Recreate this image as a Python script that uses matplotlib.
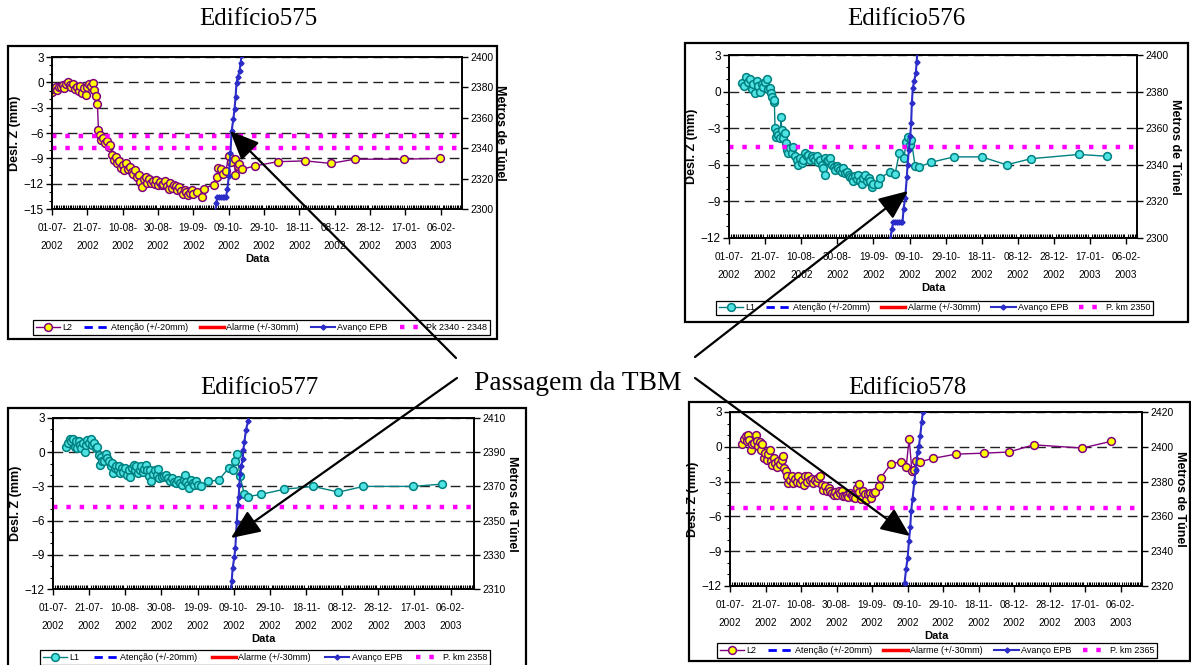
import numpy as np
import matplotlib
matplotlib.use('Agg')
import matplotlib.pyplot as plt
import matplotlib.dates as mdates
from matplotlib.ticker import MultipleLocator
from matplotlib.patches import Rectangle, FancyArrowPatch

# ------------------------------------------------------------------ data
START = '2002-07-01'
TICK_DAYS = [0, 20, 40, 60, 80, 100, 120, 140, 160, 180, 200, 220]
TICK_LABELS = ['01-07-\n2002', '21-07-\n2002', '10-08-\n2002', '30-08-\n2002',
               '19-09-\n2002', '09-10-\n2002', '29-10-\n2002', '18-11-\n2002',
               '08-12-\n2002', '28-12-\n2002', '17-01-\n2003', '06-02-\n2003']

# Edifício 575 - L2 (days since 01-07-2002, mm)
L2_575_DAYS = [0, 1, 2, 3, 4, 5, 6, 7, 8, 9, 10, 11, 12, 13, 14, 15, 16, 17, 18, 19, 20,
               21, 22, 23, 24, 25, 25.7, 26.3, 27, 28, 29, 30, 31, 32, 33, 34, 35, 36, 37,
               38, 39, 40, 41, 42, 43, 44, 45, 46, 47, 48, 49, 50, 51, 52, 53, 54, 55, 56,
               57, 58, 59, 60, 61, 62, 63, 64, 65, 66, 67, 68, 69, 70, 71, 72, 73, 74, 75,
               76, 77, 78, 79, 80, 82, 85, 86, 91.4, 93.3, 94.2, 95.5, 97, 98.5, 99.9,
               101.5, 103.3, 103.7, 105, 106, 107.6, 114.7, 127.7, 143.4, 157.6, 171.4,
               198.9, 219.7]
L2_575_VALS = [-1.1, -0.8, -0.6, -0.9, -0.5, -0.6, -0.3, -0.7, -0.2, 0.0, -0.3, -0.5, -0.2,
               -0.8, -0.6, -1.0, -0.4, -1.3, -0.7, -1.5, -0.5, -0.2, -0.4, -0.1, -0.9, -1.6,
               -2.6, -5.7, -6.2, -6.8, -6.6, -7.2, -6.9, -7.7, -7.4, -8.6, -9.2, -8.9, -9.6,
               -9.3, -10.2, -9.8, -10.4, -9.6, -10.3, -10.0, -10.6, -10.9, -10.4, -11.2,
               -11.0, -11.8, -12.4, -11.5, -11.2, -11.9, -11.5, -11.9, -11.7, -12.0, -11.6,
               -12.1, -11.8, -12.2, -12.0, -11.7, -12.3, -12.6, -11.9, -12.5, -12.1, -12.3,
               -12.8, -12.4, -12.9, -13.2, -12.7, -13.0, -13.4, -13.1, -12.8, -13.2, -13.0,
               -13.6, -12.6, -12.1, -11.2, -10.2, -10.3, -10.8, -10.5, -8.7, -9.4, -9.1,
               -11.0, -9.9, -9.7, -10.3, -9.9, -9.4, -9.3, -9.6, -9.1, -9.1, -9.0]
EPB_575_DAYS = [92.3, 93.0, 93.5, 94.5, 95.5, 96.5, 97.5, 98.5, 99.2, 100.1, 101.0, 101.6,
                102.6, 103.3, 103.9, 104.4, 105.2, 106.1, 106.7, 107.3]
EPB_575_VALS = [2298, 2304, 2308, 2308, 2308, 2308, 2308, 2308, 2313, 2322, 2337, 2351,
                2359, 2366, 2374, 2383, 2387, 2390.5, 2396, 2401]
PK_575 = [2348, 2340]

# Edifício 576 - L1
L1_576_DAYS = [7.4, 8.5, 9.4, 10.4, 11.6, 12.6, 13.5, 14.4, 15.3, 16.3, 17.2, 18.1, 19.0,
               20.0, 20.9, 21.8, 22.7, 23.3, 24.0, 24.8, 25.1, 25.5, 25.9, 26.4, 27.4, 28.3,
               28.8, 29.2, 30.1, 31.1, 31.6, 32.3, 32.9, 33.8, 34.8, 35.7, 36.6, 37.5, 38.4,
               39.4, 40.3, 41.2, 42.1, 43.1, 44.0, 44.9, 45.8, 46.8, 47.7, 48.6, 49.5, 50.5,
               51.4, 52.3, 52.9, 53.2, 54.2, 55.1, 56.0, 56.9, 57.9, 58.8, 59.7, 60.6, 61.5,
               62.5, 63.4, 64.3, 65.2, 66.2, 67.1, 68.0, 68.9, 69.9, 70.8, 71.7, 72.6, 73.6,
               74.5, 75.4, 76.3, 77.3, 78.2, 79.1, 80.0, 82.8, 83.7, 89.3, 92.0, 94.3, 97.0,
               98.0, 99.0, 100.0, 101.0, 103.1, 105.0, 111.8, 124.6, 139.9, 153.8, 167.3,
               193.9, 209.4]
L1_576_VALS = [0.7, 0.5, 1.2, 0.8, 1.0, 0.25, 0.65, -0.1, 0.9, 0.45, 0.0, 0.65, 0.4, 0.8,
               1.0, 0.25, 0.3, -0.15, -0.45, -0.85, -0.7, -3.0, -3.7, -3.3, -3.55, -3.8,
               -2.05, -3.15, -3.8, -3.4, -4.2, -4.8, -5.05, -4.65, -5.05, -4.5, -5.3, -5.6,
               -6.0, -5.45, -5.85, -5.6, -5.05, -5.3, -5.2, -5.6, -5.3, -5.45, -5.6, -5.3,
               -5.75, -5.6, -6.0, -6.3, -6.8, -5.45, -5.7, -5.6, -5.45, -6.0, -6.2, -6.4,
               -6.1, -6.3, -6.45, -6.55, -6.3, -6.7, -6.6, -6.8, -7.0, -7.1, -7.35, -6.95,
               -7.2, -6.8, -7.35, -7.6, -7.1, -6.8, -7.35, -7.1, -7.35, -7.8, -7.6, -7.6,
               -7.1, -6.55, -6.75, -5.05, -5.45, -4.1, -3.7, -4.4, -4.0, -6.1, -6.2, -5.8,
               -5.35, -5.35, -6.0, -5.5, -5.15, -5.3]
EPB_576_DAYS = [89.3, 90.2, 91.0, 92.0, 93.0, 94.0, 95.0, 96.1, 96.7, 97.6, 98.5, 98.9,
                99.6, 100.4, 100.9, 101.3, 101.8, 102.6, 103.5, 103.9, 104.4]
EPB_576_VALS = [2299, 2305, 2308.5, 2308.5, 2308.5, 2308.5, 2308.5, 2308.5, 2316, 2322,
                2333.5, 2340, 2348, 2356, 2363, 2374, 2382, 2386, 2390, 2396, 2402]
PK_576 = [2350]

# Edifício 577 - L1
L1_577_DAYS = [7.4, 8.3, 9.2, 10.1, 11.0, 12.0, 12.5, 13.3, 14.4, 15.1, 15.7, 16.6, 17.5,
               18.4, 19.0, 19.9, 21.2, 21.7, 22.5, 23.6, 24.3, 25.2, 25.8, 26.7, 27.3, 28.5,
               29.5, 30.0, 30.9, 31.9, 32.4, 33.1, 34.1, 35.0, 35.9, 36.5, 37.2, 38.3, 39.0,
               40.1, 40.9, 41.8, 42.7, 43.8, 44.6, 45.3, 46.0, 47.0, 47.9, 48.8, 49.7, 50.6,
               51.2, 51.9, 52.9, 53.8, 54.5, 55.2, 56.2, 57.5, 58.0, 58.9, 60.4, 61.7, 62.6,
               63.5, 64.5, 65.9, 66.7, 67.8, 69.1, 70.3, 71.5, 72.4, 73.1, 73.7, 74.6, 75.5,
               76.4, 77.3, 78.3, 79.2, 80.1, 82.0, 85.6, 91.7, 97.2, 99.4, 100.9, 101.7,
               103.5, 105.9, 107.7, 115.1, 128.0, 144.0, 158.0, 171.8, 199.3, 215.1]
L1_577_VALS = [0.5, 0.8, 1.15, 0.95, 1.2, 0.5, 0.95, 0.4, 0.95, 0.65, 0.35, 0.8, 0.05,
               0.65, 1.1, 0.8, 1.15, 0.65, 0.8, 0.35, 0.5, -0.25, -1.1, -0.4, -0.8, -0.8,
               -0.2, -0.5, -0.8, -1.25, -0.95, -1.85, -1.4, -1.25, -1.55, -1.25, -1.85, -1.4,
               -1.7, -1.35, -2.0, -1.55, -2.2, -1.4, -1.1, -1.55, -1.25, -1.85, -1.55, -1.25,
               -1.7, -1.45, -1.1, -1.55, -2.05, -1.55, -2.5, -1.9, -1.55, -2.0, -1.45, -2.3,
               -2.2, -2.05, -2.0, -2.3, -2.55, -2.3, -2.65, -2.7, -2.4, -2.7, -2.9, -2.4,
               -2.0, -2.6, -2.85, -3.15, -2.4, -2.7, -2.9, -2.55, -2.9, -3.0, -2.55, -2.45,
               -1.4, -1.55, -0.75, -0.15, -2.1, -3.7, -3.9, -3.7, -3.25, -3.0, -3.5, -3.0,
               -3.0, -2.8]
EPB_577_DAYS = [98.6, 98.9, 99.4, 100.4, 100.9, 101.7, 102.2, 102.8, 103.1, 103.7, 104.2,
                105.0, 105.3, 105.9, 106.8, 107.9, 108.7]
EPB_577_VALS = [2308, 2314.5, 2322, 2329, 2334, 2349, 2359, 2364, 2371, 2377, 2382, 2386,
                2391, 2396, 2403, 2408, 2414]
PK_577 = [2358]

# Edifício 578 - L2
L2_578_DAYS = [7.0, 7.9, 8.8, 9.4, 10.3, 10.9, 11.8, 12.6, 13.7, 14.7, 15.2, 16.0, 16.9,
               17.5, 18.2, 19.0, 19.7, 20.7, 21.6, 22.4, 23.1, 23.9, 24.6, 25.4, 26.3, 27.3,
               28.2, 29.1, 30.1, 30.6, 31.4, 32.1, 32.9, 33.8, 34.8, 35.7, 36.7, 37.6, 38.5,
               39.5, 40.4, 41.4, 42.3, 43.2, 44.2, 45.1, 46.1, 47.0, 47.9, 48.9, 49.8, 50.8,
               51.7, 52.6, 53.6, 54.5, 55.5, 56.4, 57.3, 58.3, 59.2, 60.2, 61.1, 62.0, 63.0,
               63.9, 64.8, 65.8, 66.7, 67.7, 68.6, 69.5, 70.5, 71.4, 72.4, 72.9, 73.9, 74.8,
               75.8, 76.7, 77.6, 78.6, 79.5, 80.5, 81.4, 84.0, 85.0, 90.8, 96.4, 99.2, 100.9,
               102.4, 103.4, 104.7, 106.8, 114.3, 127.3, 142.9, 157.0, 171.0, 198.3, 214.3]
L2_578_VALS = [0.25, 0.65, 0.95, 0.5, 1.05, 0.6, -0.3, 0.2, 0.35, 1.0, 0.5, 0.05, 0.45,
               -0.25, 0.2, -0.95, -0.5, -1.1, -0.65, -0.25, -1.25, -1.55, -0.95, -1.4, -1.7,
               -1.25, -1.5, -1.1, -0.8, -1.85, -2.1, -2.55, -3.1, -2.85, -2.55, -3.1, -2.75,
               -3.0, -2.55, -3.1, -2.85, -3.3, -2.55, -3.0, -2.55, -2.9, -2.75, -3.1, -2.85,
               -3.0, -2.7, -2.55, -3.3, -3.7, -3.4, -3.85, -3.55, -3.8, -4.0, -4.15, -3.9,
               -4.15, -3.85, -4.0, -3.8, -4.2, -4.2, -4.15, -4.3, -4.0, -4.15, -4.3, -4.45,
               -3.55, -3.2, -3.9, -4.5, -3.8, -4.1, -4.6, -4.1, -4.0, -4.4, -4.0, -3.9, -3.4,
               -2.65, -1.45, -1.3, -1.75, 0.7, -2.05, -2.0, -1.2, -1.3, -1.0, -0.63, -0.55,
               -0.45, 0.17, -0.11, 0.46]
EPB_578_DAYS = [97.9, 98.3, 99.2, 100.0, 100.8, 101.5, 102.0, 102.8, 103.8, 104.5, 105.6,
                106.4, 107.1, 107.9, 108.6, 109.0]
EPB_578_VALS = [2316, 2322, 2330, 2336, 2346, 2354, 2363, 2370, 2380, 2386.5, 2397, 2400.6,
                2406, 2414, 2420, 2425]
PK_578 = [2365]

ATENCAO = [20, -20]
ALARME = [30, -30]

# ------------------------------------------------------------------ style
W, H = 1191, 665
SANS = ['Liberation Sans', 'DejaVu Sans']
SERIF = ['Liberation Serif', 'DejaVu Serif']
PURPLE = '#800080'
TEAL = '#008080'
CYAN_FILL = '#4FE3E3'
YELLOW = '#FFFF00'
EPB_C = '#2C2CC8'
MAGENTA = '#FF00FF'

fig = plt.figure(figsize=(W / 100, H / 100), dpi=100)
T0 = mdates.date2num(np.datetime64(START))


def px_rect(l, t, r, b):
    return [l / W, 1 - b / H, (r - l) / W, (b - t) / H]


def panel(ax_box, frame_box, leg_box, title, title_xy, days, vals, name, lcol, fcol,
          edays, evals, pk, pk_label, ylo, rlo, xmax_day):
    l, t, r, b = frame_box
    fig.patches.append(Rectangle((l / W, 1 - b / H), (r - l) / W, (b - t) / H,
                                 transform=fig.transFigure, fill=False,
                                 edgecolor='black', linewidth=1.6, zorder=0))
    fig.text(title_xy[0] / W, 1 - title_xy[1] / H, title, family=SERIF, fontsize=18,
             ha='center', va='center')
    ax = fig.add_axes(px_rect(*ax_box))
    ax2 = ax.twinx()
    x = T0 + np.asarray(days, dtype=float)
    ex = T0 + np.asarray(edays, dtype=float)
    hL, = ax.plot(x, vals, color=lcol, lw=1.0, marker='o', ms=5.6,
                  mfc=fcol, mec=lcol, mew=1.1, label=name, zorder=3)
    hA = None
    for v in ATENCAO:
        hA = ax.axhline(v, color='#0000FF', lw=2, ls=(0, (3, 2)), label='Atenção (+/-20mm)')
    hR = None
    for v in ALARME:
        hR = ax.axhline(v, color='#FF0000', lw=2.5, label='Alarme (+/-30mm)')
    hE, = ax2.plot(ex, evals, color=EPB_C, lw=1.5, marker='D', ms=2.6, mfc=EPB_C,
                   mec=EPB_C, label='Avanço EPB', zorder=4)
    hP = None
    for v in pk:
        hP = ax2.axhline(v, color=MAGENTA, lw=3.2, ls=(0, (1, 2)), label=pk_label, zorder=2)

    ax.set_xlim(T0, T0 + xmax_day)
    ax.set_ylim(ylo, 3)
    ax.set_yticks(np.arange(ylo, 4, 3))
    ax.yaxis.set_minor_locator(MultipleLocator(1))
    ax.set_xticks(T0 + np.asarray(TICK_DAYS, dtype=float))
    ax.set_xticklabels(TICK_LABELS, family=SANS, fontsize=7.2, linespacing=2.0)
    ax.xaxis.set_minor_locator(MultipleLocator(1))
    ax.tick_params(axis='x', which='major', direction='out', length=4, width=1, pad=6)
    ax.tick_params(axis='x', which='minor', direction='in', length=3, width=0.8)
    ax.tick_params(axis='y', which='major', direction='out', length=4, width=1,
                   labelsize=8.5, pad=2)
    ax.tick_params(axis='y', which='minor', direction='out', length=2.5, width=0.8)
    for lab in ax.get_yticklabels():
        lab.set_family(SANS)
    ax.yaxis.grid(True, which='major', color='#222222', lw=1.0, ls=(0, (7, 4)))
    ax.set_axisbelow(True)
    ax.set_xlabel('Data', family=SANS, fontsize=8, fontweight='bold', labelpad=2)
    ax.set_ylabel('Desl. Z (mm)', family=SANS, fontsize=9, fontweight='bold', labelpad=2)

    ax2.set_ylim(rlo, rlo + 100)
    ax2.set_yticks(np.arange(rlo, rlo + 101, 20))
    ax2.tick_params(axis='y', direction='out', length=4, width=1, labelsize=7.5, pad=2)
    for lab in ax2.get_yticklabels():
        lab.set_family(SANS)
    ax2.set_ylabel('Metros de Túnel', family=SANS, fontsize=9, fontweight='bold',
                   rotation=-90, labelpad=9)
    for a in (ax, ax2):
        for s in a.spines.values():
            s.set_linewidth(1.2)
            s.set_color('black')

    ll, lt, lr, lb = leg_box
    leg = fig.legend([hL, hA, hR, hE, hP], [name, 'Atenção (+/-20mm)', 'Alarme (+/-30mm)',
                                             'Avanço EPB', pk_label],
                     loc='center', bbox_to_anchor=px_rect(ll, lt, lr, lb),
                     bbox_transform=fig.transFigure, mode='expand', ncol=5, fancybox=False,
                     edgecolor='black', framealpha=1, borderpad=0.3, handlelength=2.7,
                     handletextpad=0.25, columnspacing=0.3, borderaxespad=0,
                     prop={'family': SANS, 'size': 6.5})
    leg.get_frame().set_linewidth(0.9)
    return ax


panel((52, 57, 462, 209), (8, 46, 497, 339), (33, 316, 490, 339), 'Edifício575', (258, 19),
      L2_575_DAYS, L2_575_VALS, 'L2', PURPLE, YELLOW,
      EPB_575_DAYS, EPB_575_VALS, PK_575, 'Pk 2340 - 2348', -15, 2300, 232)
panel((729, 55, 1137, 238), (685, 43, 1188, 322), (716, 298, 1153, 318), 'Edifício576',
      (906, 19), L1_576_DAYS, L1_576_VALS, 'L1', TEAL, CYAN_FILL,
      EPB_576_DAYS, EPB_576_VALS, PK_576, 'P. km 2350', -12, 2300, 226)
panel((53, 418, 474, 589), (8, 408, 526, 700), (40, 647, 490, 668), 'Edifício577',
      (259, 388), L1_577_DAYS, L1_577_VALS, 'L1', TEAL, CYAN_FILL,
      EPB_577_DAYS, EPB_577_VALS, PK_577, 'P. km 2358', -12, 2310, 233)
panel((730, 412, 1142, 586), (689, 402, 1190, 661), (717, 642, 1157, 659), 'Edifício578',
      (907, 388), L2_578_DAYS, L2_578_VALS, 'L2', PURPLE, YELLOW,
      EPB_578_DAYS, EPB_578_VALS, PK_578, 'P. km 2365', -12, 2320, 232)

# central annotation with four arrows
fig.text(578 / W, 1 - 383 / H, 'Passagem da TBM', family=SERIF, fontsize=19.8,
         ha='center', va='center', zorder=20)
ARROWS = [((456, 358), (230, 131)), ((695, 357), (908, 191)),
          ((457, 378), (231, 538)), ((695, 378), (910, 536))]
for (sx, sy), (tx, ty) in ARROWS:
    fig.add_artist(FancyArrowPatch(
        (sx / W, 1 - sy / H), (tx / W, 1 - ty / H), transform=fig.transFigure,
        arrowstyle='-|>,head_length=1.5,head_width=0.65', mutation_scale=12,
        color='black', lw=1.6, zorder=20, shrinkA=0, shrinkB=0))

fig.savefig('out.png', dpi=100)
